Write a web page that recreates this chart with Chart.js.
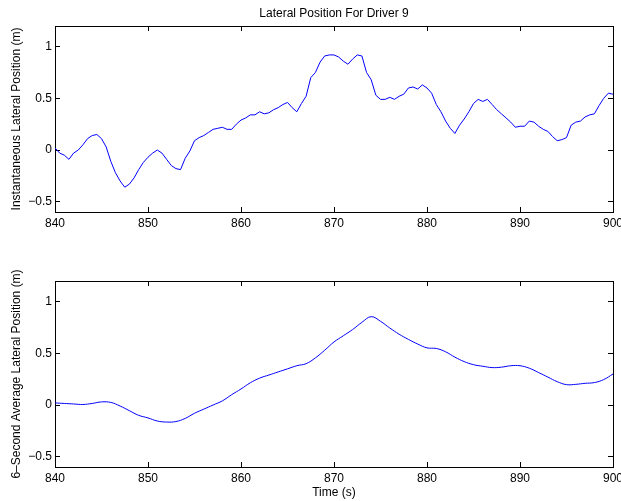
<!DOCTYPE html>
<html>
<head>
<meta charset="utf-8">
<script src="https://cdn.jsdelivr.net/npm/chart.js@4.4.0/dist/chart.umd.min.js"></script>
<style>
  html, body { margin: 0; padding: 0; background: #fff; }
  #wrap { position: relative; width: 621px; height: 501px; }
  canvas { position: absolute; left: 0; }
  #chart-top { top: 0; }
  #chart-bottom { top: 250px; }
</style>
</head>
<body>
<div id="wrap">
  <canvas id="chart-top" width="621" height="250"></canvas>
  <canvas id="chart-bottom" width="621" height="251"></canvas>
</div>
<script>
// time axis: samples start at 840 s
var t_start = 840;
var instant_step = 0.5;
var avg_step = 1;

// instantaneous lateral position (m), every 0.5 s from 840 to 900
var instant_pos = [
  0.02, -0.03, -0.05, -0.09, -0.03, 0.00, 0.05, 0.11, 0.14, 0.15,
  0.11, 0.03, -0.11, -0.22, -0.30, -0.36, -0.33, -0.27, -0.19, -0.12,
  -0.07, -0.03, 0.00, -0.03, -0.09, -0.15, -0.18, -0.19, -0.08, -0.01,
  0.09, 0.12, 0.14, 0.17, 0.20, 0.21, 0.22, 0.20, 0.20, 0.25,
  0.29, 0.31, 0.34, 0.34, 0.37, 0.35, 0.36, 0.39, 0.41, 0.44,
  0.46, 0.41, 0.37, 0.45, 0.52, 0.70, 0.75, 0.85, 0.91, 0.92,
  0.92, 0.90, 0.86, 0.83, 0.88, 0.92, 0.91, 0.75, 0.68, 0.53,
  0.49, 0.49, 0.51, 0.49, 0.52, 0.54, 0.60, 0.61, 0.59, 0.63,
  0.60, 0.55, 0.44, 0.37, 0.28, 0.21, 0.16, 0.24, 0.30, 0.37,
  0.45, 0.49, 0.47, 0.49, 0.44, 0.39, 0.35, 0.31, 0.27, 0.22,
  0.23, 0.23, 0.28, 0.27, 0.23, 0.20, 0.18, 0.13, 0.09, 0.10,
  0.12, 0.24, 0.27, 0.28, 0.32, 0.34, 0.35, 0.43, 0.50, 0.55,
  0.54
];

// 6-second average lateral position (m), every 1 s from 840 to 900
var avg_pos = [
  0.02, 0.015, 0.01, 0.005, 0.015, 0.03, 0.025, -0.01, -0.055, -0.10,
  -0.125, -0.155, -0.165, -0.16, -0.13, -0.08, -0.04, 0.00, 0.04, 0.10,
  0.155, 0.215, 0.26, 0.29, 0.32, 0.35, 0.38, 0.40, 0.456, 0.53,
  0.61, 0.67, 0.73, 0.80, 0.855, 0.81, 0.745, 0.685, 0.635, 0.59,
  0.553, 0.547, 0.515, 0.463, 0.42, 0.39, 0.375, 0.362, 0.366, 0.38,
  0.38, 0.356, 0.314, 0.27, 0.226, 0.197, 0.20, 0.21, 0.217, 0.246,
  0.30
];

var x_ticks = [840, 850, 860, 870, 880, 890, 900];
var y_ticks = [-0.5, 0, 0.5, 1];

function toPoints(values, step) {
  return values.map(function (v, i) {
    return { x: t_start + i * step, y: v };
  });
}

Chart.defaults.font.family = "'Liberation Sans', Arial, Helvetica, sans-serif";
Chart.defaults.font.size = 12;
Chart.defaults.color = "#000";

function fixSize(prop, size) {
  return function (scale) {
    scale[prop] = size;
    scale.paddingLeft = 0;
    scale.paddingRight = 0;
    scale.paddingTop = 0;
    scale.paddingBottom = 0;
  };
}

function setTicks(values) {
  return function (scale) {
    scale.ticks = values.map(function (v) {
      return { value: v };
    });
  };
}

function fmt(value) {
  return String(value).replace("-", "\u2212");
}

// matlab style: ticks pointing into the box, no grid lines
var tickGrid = {
  drawOnChartArea: false,
  drawTicks: true,
  tickLength: -5,
  color: "#000",
  lineWidth: 1,
};
var boxBorder = { display: true, color: "#000", width: 1 };

function makeScales(opts) {
  return {
    x: {
      type: "linear",
      position: "bottom",
      min: 840,
      max: 900,
      afterBuildTicks: setTicks(x_ticks),
      afterFit: fixSize("height", opts.bottom),
      grid: tickGrid,
      border: boxBorder,
      ticks: { padding: 9.8, maxRotation: 0, autoSkip: false, callback: fmt },
      title: {
        display: !!opts.xTitle,
        text: opts.xTitle || "",
        padding: { top: 0, bottom: 0.8 },
      },
    },
    x2: {
      type: "linear",
      position: "top",
      min: 840,
      max: 900,
      afterBuildTicks: setTicks(x_ticks),
      afterFit: fixSize("height", opts.top),
      grid: tickGrid,
      border: boxBorder,
      ticks: { display: false },
    },
    y: {
      type: "linear",
      position: "left",
      min: -0.6,
      max: 1.2,
      afterBuildTicks: setTicks(y_ticks),
      afterFit: fixSize("width", 55),
      grid: tickGrid,
      border: boxBorder,
      ticks: { padding: 8, callback: fmt },
      title: {
        display: true,
        text: opts.yTitle,
        padding: { top: 9.5, bottom: 9.5 },
      },
    },
    y2: {
      type: "linear",
      position: "right",
      min: -0.6,
      max: 1.2,
      afterBuildTicks: setTicks(y_ticks),
      afterFit: fixSize("width", 8),
      grid: tickGrid,
      border: boxBorder,
      ticks: { display: false },
    },
  };
}

var ctx = document.getElementById("chart-top").getContext("2d");

new Chart(ctx, {
  type: "line",
  data: {
    datasets: [
      {
        label: "Instantaneous",
        data: toPoints(instant_pos, instant_step),
        borderColor: "#0000ff",
        borderWidth: 1,
        pointRadius: 0,
        tension: 0,
        fill: false,
      },
    ],
  },
  options: {
    responsive: false,
    animation: false,
    layout: { padding: 0 },
    plugins: {
      legend: { display: false },
      tooltip: { enabled: false },
      title: {
        display: true,
        fullSize: false,
        text: "Lateral Position For Driver 9",
        color: "#000",
        font: { size: 12, weight: "normal" },
        padding: { top: 6.1, bottom: 0 },
      },
    },
    scales: makeScales({
      yTitle: "Instantaneous Lateral Position (m)",
      top: 26 - 20.5,
      bottom: 38,
    }),
  },
});

var ctx = document.getElementById("chart-bottom").getContext("2d");

new Chart(ctx, {
  type: "line",
  data: {
    datasets: [
      {
        label: "6-Second Average",
        data: toPoints(avg_pos, avg_step),
        borderColor: "#0000ff",
        borderWidth: 1,
        pointRadius: 0,
        tension: 0.4,
        fill: false,
      },
    ],
  },
  options: {
    responsive: false,
    animation: false,
    layout: { padding: 0 },
    plugins: {
      legend: { display: false },
      tooltip: { enabled: false },
    },
    scales: makeScales({
      yTitle: "6\u2013Second Average Lateral Position (m)",
      xTitle: "Time (s)",
      top: 31,
      bottom: 34,
    }),
  },
});
</script>
</body>
</html>
